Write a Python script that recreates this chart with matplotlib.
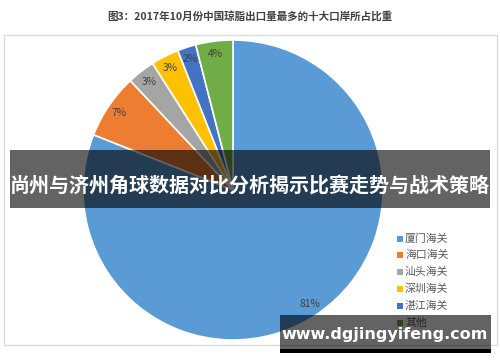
import matplotlib
matplotlib.use('Agg')
import matplotlib.pyplot as plt
from matplotlib.patches import Rectangle

plt.rcParams['font.family'] = ['Noto Sans CJK SC', 'DejaVu Sans']

title = '图3：2017年10月份中国琼脂出口量最多的十大口岸所占比重'
ports = ['厦门海关', '海口海关', '汕头海关', '深圳海关', '湛江海关', '其他']
shares = [81, 7, 3, 3, 2, 4]
colors = ['#5B9BD5', '#ED7D31', '#A5A5A5', '#FFC000', '#4472C4', '#70AD47']
banner = '尚州与济州角球数据对比分析揭示比赛走势与战术策略'
watermark = 'www.dgjingyifeng.com'

W, H = 500, 362
fig = plt.figure(figsize=(W / 100, H / 100), dpi=100)

# pie: centre (233,190), radius 150 px
cx, cy, r = 233, 190, 150
ax = fig.add_axes([(cx - r) / W, (H - cy - r) / H, 2 * r / W, 2 * r / H])
wedges, texts, autotexts = ax.pie(
    shares, colors=colors, startangle=90, counterclock=False,
    autopct='%.0f%%', pctdistance=0.915,
    wedgeprops=dict(edgecolor='white', linewidth=1.2),
    textprops=dict(color='#404040', fontsize=7.4))
ax.set_xlim(-1, 1)
ax.set_ylim(-1, 1)
ax.set_aspect('equal')
ax.axis('off')

# overlay in pixel coordinates
ov = fig.add_axes([0, 0, 1, 1], zorder=5)
ov.set_xlim(0, W)
ov.set_ylim(H, 0)
ov.axis('off')
ov.patch.set_alpha(0)

ov.add_patch(Rectangle((3.5, 35), 493, 310, fill=False, edgecolor='#dcdcdc', linewidth=1))
ov.text(250, 16, title, ha='center', va='center', fontsize=7.6,
        fontweight='bold', color='#404040')

# legend
for i, (name, c) in enumerate(zip(ports, colors)):
    y = 238.5 + i * 16.8
    ov.add_patch(Rectangle((396.5, y - 3), 6, 6, facecolor=c, edgecolor='none', zorder=2))
    ov.text(405, y, name, ha='left', va='center', fontsize=7.8, color='#595959', zorder=3)

# overlay banners (above everything else)
ov.add_patch(Rectangle((10, 150), 480, 58, facecolor='black', alpha=0.61,
                       edgecolor='none', zorder=10))
ov.text(250, 185, banner, ha='center', va='center', fontsize=14.4,
        fontweight='bold', color='white', zorder=11)

ov.add_patch(Rectangle((280, 315), 211, 34, facecolor='black', alpha=0.61,
                       edgecolor='none', zorder=10))
ov.add_patch(Rectangle((280, 349), 211, 4, facecolor='black', edgecolor='none', zorder=10))
ov.text(385, 335, watermark, ha='center', va='center', fontsize=11.5,
        fontweight='bold', color='white', family='DejaVu Sans', zorder=11)

fig.savefig('out.png', dpi=100)
